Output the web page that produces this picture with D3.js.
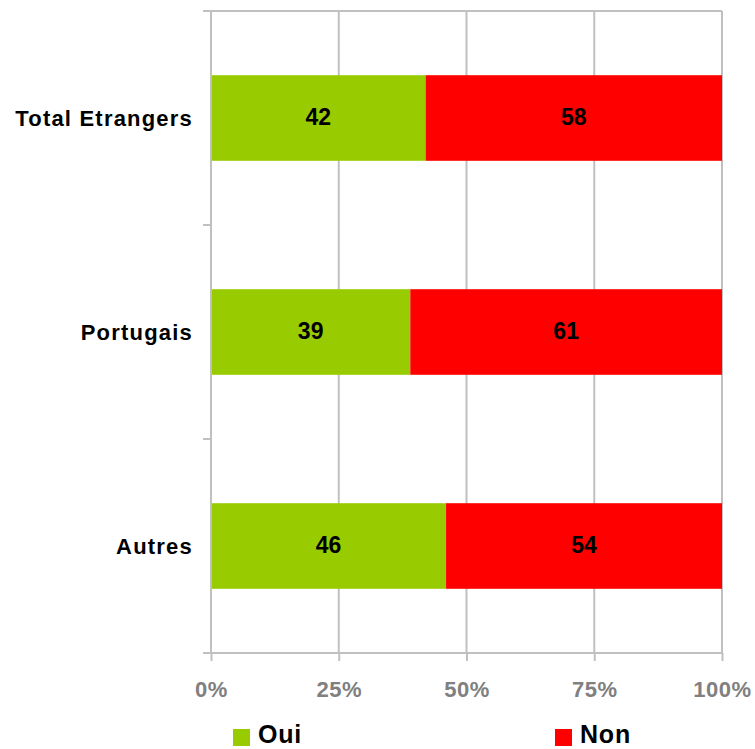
<!DOCTYPE html>
<html>
<head>
<meta charset="utf-8">
<script src="https://d3js.org/d3.v7.min.js"></script>
<style>
  body { margin: 0; background: #fff; }
  text { font-family: "Liberation Sans", Arial, sans-serif; font-weight: bold; }
</style>
</head>
<body>
<div id="chart"></div>
<script>
var categories = ["Total Etrangers", "Portugais", "Autres"];
var oui = [42, 39, 46];
var non = [58, 61, 54];
var seriesNames = ["Oui", "Non"];
var seriesColors = ["#99CC00", "#FF0000"];
var tickValues = [0, 25, 50, 75, 100];

var width = 755, height = 749;
var margin = {top: 11, right: 33, bottom: 96, left: 211};

var svg = d3.select("#chart").append("svg")
            .attr("width", width)
            .attr("height", height);

var x = d3.scaleLinear()
          .domain([0, 100])
          .range([margin.left, width - margin.right]);

var y = d3.scaleBand()
          .domain(categories)
          .range([margin.top, height - margin.bottom])
          .paddingInner(0.6)
          .paddingOuter(0.3);

var gridColor = "#C0C0C0";

// vertical gridlines
svg.append("g")
   .selectAll("line")
   .data(tickValues.slice(1))
   .enter().append("line")
   .attr("x1", d => x(d)).attr("x2", d => x(d))
   .attr("y1", margin.top).attr("y2", height - margin.bottom)
   .attr("stroke", gridColor)
   .attr("stroke-width", 2);

// top line
svg.append("line")
   .attr("x1", margin.left - 8).attr("x2", x(100))
   .attr("y1", margin.top).attr("y2", margin.top)
   .attr("stroke", gridColor).attr("stroke-width", 2);

// stacked bars
var rows = categories.map(function(c, i){
    return {cat: c, parts: [{v0: 0, v1: oui[i], val: oui[i], s: 0},
                            {v0: oui[i], v1: oui[i] + non[i], val: non[i], s: 1}]};
});

var rowG = svg.append("g").selectAll("g")
   .data(rows)
   .enter().append("g");

rowG.selectAll("rect")
   .data(d => d.parts.map(p => Object.assign({cat: d.cat}, p)))
   .enter().append("rect")
   .attr("x", d => x(d.v0))
   .attr("width", d => x(d.v1) - x(d.v0))
   .attr("y", d => y(d.cat))
   .attr("height", y.bandwidth())
   .attr("fill", d => seriesColors[d.s]);

rowG.selectAll("text")
   .data(d => d.parts.map(p => Object.assign({cat: d.cat}, p)))
   .enter().append("text")
   .attr("x", d => (x(d.v0) + x(d.v1)) / 2)
   .attr("y", d => y(d.cat) + y.bandwidth() / 2)
   .attr("dy", "0.3em")
   .attr("text-anchor", "middle")
   .attr("font-size", 23)
   .attr("fill", "#000")
   .text(d => d.val);

// y axis
var yAxis = svg.append("g");
yAxis.append("line")
   .attr("x1", margin.left).attr("x2", margin.left)
   .attr("y1", margin.top).attr("y2", height - margin.bottom)
   .attr("stroke", gridColor).attr("stroke-width", 2);

var step = y.step();
var boundaries = d3.range(categories.length + 1).map(i => margin.top + i * step);
yAxis.selectAll("line.tick")
   .data(boundaries)
   .enter().append("line")
   .attr("class", "tick")
   .attr("x1", margin.left - 8).attr("x2", margin.left)
   .attr("y1", d => d).attr("y2", d => d)
   .attr("stroke", gridColor).attr("stroke-width", 2);

yAxis.selectAll("text")
   .data(categories)
   .enter().append("text")
   .attr("x", margin.left - 18)
   .attr("y", d => y(d) + y.bandwidth() / 2)
   .attr("dy", "0.35em")
   .attr("text-anchor", "end")
   .attr("font-size", 22)
   .attr("letter-spacing", "1.2px")
   .attr("fill", "#000")
   .text(d => d);

// x axis
var xAxis = svg.append("g")
   .attr("transform", "translate(0," + (height - margin.bottom) + ")")
   .call(d3.axisBottom(x).tickValues(tickValues).tickFormat(d => d + "%").tickSize(8));

xAxis.select(".domain")
   .attr("d", "M" + (margin.left - 8) + ",0H" + x(100))
   .attr("stroke", gridColor).attr("stroke-width", 2);
xAxis.selectAll(".tick line").attr("stroke", gridColor).attr("stroke-width", 2);
xAxis.selectAll(".tick text")
   .attr("y", 44)
   .attr("dy", null)
   .attr("font-size", 22)
   .attr("font-family", "Liberation Sans, Arial, sans-serif")
   .attr("font-weight", "bold")
   .attr("letter-spacing", "0.5px")
   .attr("fill", "#808080");

// legend
var legendX = [233, 555];
var legend = svg.append("g").selectAll("g")
   .data(seriesNames)
   .enter().append("g")
   .attr("transform", (d, i) => "translate(" + legendX[i] + ",729)");

legend.append("rect")
   .attr("width", 17).attr("height", 17)
   .attr("fill", (d, i) => seriesColors[i]);

legend.append("text")
   .attr("x", 25)
   .attr("y", 14)
   .attr("font-size", 25)
   .attr("letter-spacing", "0.8px")
   .attr("fill", "#000")
   .text(d => d);
</script>
</body>
</html>
